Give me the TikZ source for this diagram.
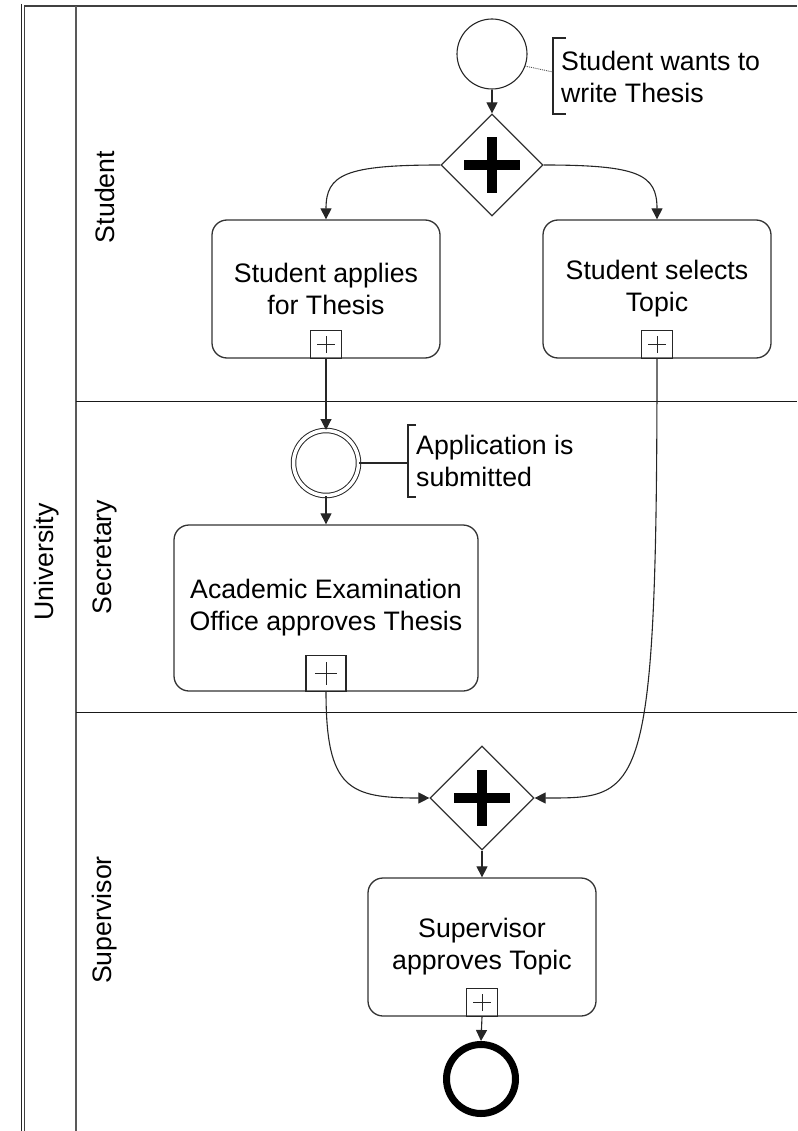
\documentclass[tikz,border=0pt]{standalone}
\usepackage{fontspec}
\setmainfont{Liberation Sans}
\usetikzlibrary{shapes.geometric,arrows.meta,calc}
\tikzset{
  txt/.style={font=\fontsize{26.7}{32}\selectfont, inner sep=0pt},
  task/.style={draw=black!80, line width=1.3pt, rectangle, rounded corners=15pt, align=center, txt},
  gw/.style={draw=black!80, line width=1.2pt, diamond, inner sep=0pt, minimum width=#1, minimum height=#1,
    path picture={\fill[black] ($(path picture bounding box.center)+(-28pt,-5pt)$) rectangle ++(56pt,10pt);
                  \fill[black] ($(path picture bounding box.center)+(-5pt,-28pt)$) rectangle ++(10pt,56pt);}},
  mk/.style={draw=black!85, line width=1.1pt, rectangle, inner sep=0pt, anchor=south, minimum width=#1pt, minimum height=0.88*#1pt,
    path picture={\draw[line width=0.9pt] ($(path picture bounding box.center)+(-0.28*#1pt,0pt)$) -- ++(0.56*#1pt,0pt);
                  \draw[line width=0.9pt] ($(path picture bounding box.center)+(0pt,-0.28*#1pt)$) -- ++(0pt,0.56*#1pt);}},
  flow/.style={draw=black!85, line width=1.1pt, -{Triangle[width=11pt,length=11pt]}},
  brk/.style={draw=black!85, line width=1.1pt},
  lane/.style={txt, rotate=90, anchor=center},
}
\begin{document}
\begin{tikzpicture}[x=1pt,y=-1pt]
\useasboundingbox (0,0) rectangle (797,1131);
% pool and lanes
\coordinate (pTL) at (21.5,4);
\coordinate (pBL) at (21.5,1131);
\coordinate (qTL) at (24.5,6);
\coordinate (qBL) at (24.5,1131);
\coordinate (qTR) at (797,6);
\coordinate (iT) at (76,6);
\coordinate (iB) at (76,1131);
\coordinate (l1L) at (76,401.5);
\coordinate (l1R) at (797,401.5);
\coordinate (l2L) at (76,712.5);
\coordinate (l2R) at (797,712.5);
\draw[line width=1pt, black!85] (pTL) -- (pBL);
\draw[line width=1.8pt, black!75] (qBL) -- (qTL) -- (qTR);
\draw[line width=1.8pt, black!65] (iT) -- (iB);
\draw[line width=1.4pt, black!90] (l1L) -- (l1R);
\draw[line width=1.4pt, black!90] (l2L) -- (l2R);
\node[lane] (lu) at (47,562) {University};
\node[lane] (ls) at (105,197) {Student};
\node[lane] (lse) at (105,557) {Secretary};
\node[lane] (lsu) at (105,920) {Supervisor};

% events
\node[circle, draw=black!85, line width=1.1pt, minimum size=70pt, inner sep=0pt] (start) at (492,54) {};
\node[circle, draw=black!85, line width=1pt, double, double distance=3.5pt, minimum size=65pt, inner sep=0pt] (ie) at (326,463) {};
\node[circle, draw=black, line width=7pt, minimum size=69pt, inner sep=0pt] (end) at (481,1079) {};

% gateways
\node[gw=102pt] (g1) at (492,165) {};
\node[gw=104pt] (g2) at (482,798) {};

% tasks
\node[task, minimum width=228pt, minimum height=138pt] (t1) at (326,289) {Student applies\\for Thesis};
\node[task, minimum width=228pt, minimum height=138pt] (t2) at (657,289) {Student selects\\Topic};
\node[task, minimum width=304pt, minimum height=166pt] (t3) at (326,608) {Academic Examination\\Office approves Thesis};
\node[task, minimum width=228pt, minimum height=138pt] (t4) at (482,947) {Supervisor\\approves Topic};
\node[mk=31] (m1) at (t1.south) {};
\node[mk=31] (m2) at (t2.south) {};
\node[mk=40] (m3) at (t3.south) {};
\node[mk=31] (m4) at (t4.south) {};

% annotations
\coordinate (a1t) at (566,38);
\coordinate (a1tc) at (553,38);
\coordinate (a1bc) at (553,114);
\coordinate (a1b) at (566,114);
\coordinate (a1m) at (553,72);
\draw[brk] (a1t) -- (a1tc) -- (a1bc) -- (a1b);
\node[txt, align=left, anchor=west] (n1) at (561,77) {Student wants to\\write Thesis};
\draw[black!70, line width=0.9pt, densely dotted] (start.-20) -- (a1m);

\coordinate (a2t) at (416,425);
\coordinate (a2tc) at (408,425);
\coordinate (a2bc) at (408,497);
\coordinate (a2b) at (416,497);
\coordinate (a2m) at (408,463);
\draw[brk] (a2t) -- (a2tc) -- (a2bc) -- (a2b);
\node[txt, align=left, anchor=west] (n2) at (416,461) {Application is\\submitted};
\draw[black!85, line width=1.1pt] (ie.east) -- (a2m);

% flows
\draw[flow] (start.south) -- (g1.north);
\draw[flow] (g1.west) .. controls +(-95,0) and +(0,-45) .. (t1.north);
\draw[flow] (g1.east) .. controls +(95,0) and +(0,-45) .. (t2.north);
\draw[flow] (m1.south) -- (ie.north);
\draw[flow] (ie.south) -- (t3.north);
\draw[flow] (m3.south) .. controls +(0,98) and +(-80,0) .. (g2.west);
\draw[flow] (m2.south) .. controls +(0,442) and +(107,0) .. (g2.east);
\draw[flow] (g2.south) -- (t4.north);
\draw[flow] (m4.south) -- (end.north);
\end{tikzpicture}
\end{document}
